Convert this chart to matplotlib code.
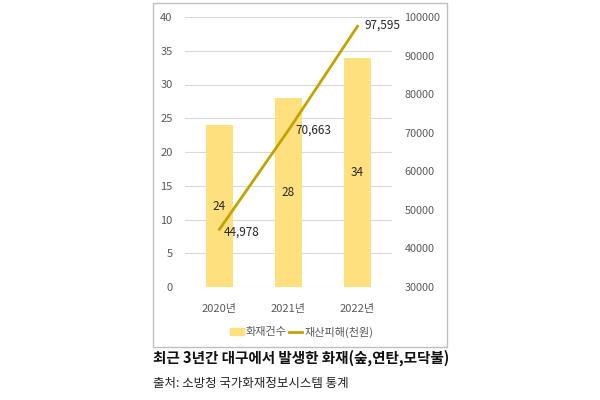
import matplotlib
matplotlib.use("Agg")
import matplotlib.pyplot as plt
from matplotlib.patches import Rectangle
from matplotlib.lines import Line2D

plt.rcParams['font.family'] = ['Noto Sans CJK KR', 'DejaVu Sans']

# data
years = ['2020년', '2021년', '2022년']
fire_counts = [24, 28, 34]
damage = [44978, 70663, 97595]
left_ticks = [0, 5, 10, 15, 20, 25, 30, 35, 40]
right_ticks = [30000, 40000, 50000, 60000, 70000, 80000, 90000, 100000]

bar_color = '#FFE07E'
line_color = '#C2A300'
text_color = '#595959'

fig = plt.figure(figsize=(6, 4), dpi=100)

# outer frame of the chart
fig.patches.append(Rectangle((153 / 600, 1 - 347 / 400), 294 / 600, 344 / 400,
                             transform=fig.transFigure, fill=False,
                             edgecolor='#BFBFBF', linewidth=1))

ax = fig.add_axes([185 / 600, 1 - 287 / 400, 207 / 600, 270 / 400])
x = range(len(years))
ax.bar(x, fire_counts, width=0.4, color=bar_color, zorder=2)
ax.set_xlim(-0.5, 2.5)
ax.set_ylim(0, 40)
ax.set_yticks(left_ticks)
ax.set_xticks(list(x))
ax.set_xticklabels(years)
ax.grid(axis='y', color='#D9D9D9', linewidth=0.8, zorder=0)
ax.set_axisbelow(True)
for s in ax.spines.values():
    s.set_visible(False)
ax.tick_params(length=0, labelsize=8, colors=text_color)
ax.tick_params(axis='x', pad=12)
ax.tick_params(axis='y', pad=9)

for i, v in enumerate(fire_counts):
    ax.text(i, v / 2, str(v), ha='center', va='center', fontsize=8.5, color='#262626')

ax2 = ax.twinx()
ax2.plot(list(x), damage, color=line_color, linewidth=2, zorder=3)
ax2.set_ylim(30000, 100000)
ax2.set_yticks(right_ticks)
for s in ax2.spines.values():
    s.set_visible(False)
ax2.tick_params(length=0, labelsize=7.8, colors=text_color, pad=9)

offsets = [(3, -2), (5, 0), (5, 1)]
for i, v in enumerate(damage):
    ax2.annotate(f'{v:,}', (i, v), xytext=offsets[i], textcoords='offset points',
                 ha='left', va='center', fontsize=8.5, color='#262626')

handles = [Rectangle((0, 0), 1, 1, color=bar_color),
           Line2D([0], [0], color=line_color, linewidth=2)]
fig.legend(handles, ['화재건수', '재산피해(천원)'], loc='center',
           bbox_to_anchor=(302 / 600, 1 - 332 / 400), ncol=2, frameon=False,
           fontsize=8, labelcolor=text_color, handlelength=1.2, handletextpad=0.2,
           columnspacing=0.2)

fig.text(153 / 600, 1 - 358 / 400, '최근 3년간 대구에서 발생한 화재(숲,연탄,모닥불)',
         fontsize=10.5, fontweight='bold', color='#111111', va='center')
fig.text(153 / 600, 1 - 383 / 400, '출처: 소방청 국가화재정보시스템 통계',
         fontsize=9, color='#222222', va='center')

fig.savefig('out.png', dpi=100)
